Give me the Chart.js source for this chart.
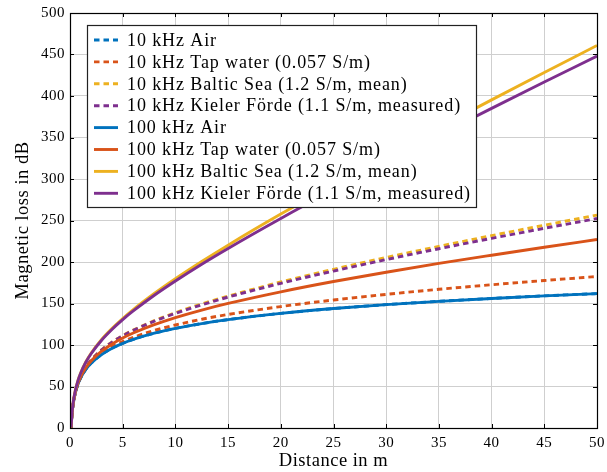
<!DOCTYPE html>
<html>
<head>
<meta charset="utf-8">
<script src="https://cdn.jsdelivr.net/npm/chart.js@4.4.1/dist/chart.umd.min.js"></script>
<style>
html, body { margin: 0; padding: 0; background: #fff; }
canvas { display: block; }
</style>
</head>
<body>
<canvas id="lossChart" width="607" height="472"></canvas>
<script>
// distance in m
const distance = [0.1, 0.2, 0.3, 0.5, 0.75, 1, 1.5, 2, 3, 4, 5, 6, 8, 10, 12.5, 15, 20, 25, 30, 35, 40, 45, 50];

// magnetic loss in dB
const air10k    = [0, 18.1, 28.6, 41.9, 52.5, 60, 70.6, 78.1, 88.6, 96.1, 101.9, 106.7, 114.2, 120, 125.8, 130.6, 138.1, 143.9, 148.6, 152.6, 156.1, 159.2, 161.9];
const tap10k    = [0, 18.1, 28.8, 42.2, 52.8, 60.4, 71.2, 78.9, 89.9, 97.8, 104.0, 109.2, 117.5, 124.1, 131.0, 136.8, 146.3, 154.2, 161.0, 167.1, 172.6, 177.7, 182.5];
const baltic10k = [0.2, 18.4, 29.2, 42.9, 53.9, 61.9, 73.4, 81.8, 94.3, 103.7, 111.4, 118.0, 129.3, 138.9, 149.5, 158.9, 175.9, 191.2, 205.4, 218.8, 231.8, 244.3, 256.5];
const kiel10k   = [0.2, 18.4, 29.2, 42.9, 53.9, 61.8, 73.3, 81.7, 94.1, 103.4, 111.0, 117.6, 128.7, 138.1, 148.4, 157.7, 174.3, 189.1, 202.9, 216.0, 228.5, 240.6, 252.4];
const air100k    = [0, 18.1, 28.6, 41.9, 52.5, 60, 70.6, 78.1, 88.6, 96.1, 101.9, 106.7, 114.2, 120, 125.8, 130.6, 138.1, 143.9, 148.6, 152.6, 156.1, 159.2, 161.9];
const tap100k    = [0.1, 18.3, 29.0, 42.6, 53.5, 61.3, 72.5, 80.7, 92.5, 101.3, 108.5, 114.5, 124.6, 133.0, 142.1, 150.1, 164.1, 176.5, 187.7, 198.3, 208.2, 217.8, 227.1];
const baltic100k = [0.6, 19.3, 30.4, 44.9, 57.0, 66.0, 79.5, 90.0, 106.6, 120.0, 131.8, 142.6, 162.0, 179.8, 200.6, 220.3, 257.7, 293.4, 328.0, 361.9, 395.3, 428.3, 460.9];
const kiel100k   = [0.6, 19.2, 30.4, 44.8, 56.8, 65.7, 79.2, 89.5, 105.8, 119.0, 130.6, 141.0, 160.0, 177.2, 197.4, 216.4, 252.5, 287.0, 320.4, 353.0, 385.1, 416.8, 448.1];

const seriesLabels = [
    '10 kHz Air',
    '10 kHz Tap water (0.057 S/m)',
    '10 kHz Baltic Sea (1.2 S/m, mean)',
    '10 kHz Kieler Förde (1.1 S/m, measured)',
    '100 kHz Air',
    '100 kHz Tap water (0.057 S/m)',
    '100 kHz Baltic Sea (1.2 S/m, mean)',
    '100 kHz Kieler Förde (1.1 S/m, measured)'
];
const seriesValues = [air10k, tap10k, baltic10k, kiel10k, air100k, tap100k, baltic100k, kiel100k];
const seriesColors = ['#0072BD', '#D95319', '#EDB120', '#7E2F8E', '#0072BD', '#D95319', '#EDB120', '#7E2F8E'];

const xTicks = [0, 5, 10, 15, 20, 25, 30, 35, 40, 45, 50];
const yTicks = [0, 50, 100, 150, 200, 250, 300, 350, 400, 450, 500];

const serif = "'Liberation Serif', 'Times New Roman', serif";
const dash = [5.5, 4];

const datasets = seriesValues.map(function (vals, i) {
    return {
        label: seriesLabels[i],
        data: vals.map(function (v, j) { return { x: distance[j], y: v }; }),
        borderColor: seriesColors[i],
        borderWidth: 2.9,
        borderDash: i < 4 ? dash : [],
        pointRadius: 0,
        fill: false,
        cubicInterpolationMode: 'monotone',
        order: seriesValues.length - i  // later series on top, like pgfplots
    };
});

// frame, inner ticks and the boxed legend
const framePlugin = {
    id: 'frame',
    beforeDraw(chart) {
        // the TeX font in the original runs wider than Times
        chart.ctx.letterSpacing = '0.5px';
    },
    afterDatasetsDraw(chart) {
        const ctx = chart.ctx;
        const a = chart.chartArea;
        const xs = chart.scales.x, ys = chart.scales.y;
        ctx.save();
        ctx.strokeStyle = '#000';
        ctx.lineWidth = 1;
        ctx.beginPath();
        xTicks.forEach(function (t) {
            const px = Math.round(xs.getPixelForValue(t)) + 0.5;
            ctx.moveTo(px, a.bottom); ctx.lineTo(px, a.bottom - 4);
            ctx.moveTo(px, a.top); ctx.lineTo(px, a.top + 4);
        });
        yTicks.forEach(function (t) {
            const py = Math.round(ys.getPixelForValue(t)) + 0.5;
            ctx.moveTo(a.left, py); ctx.lineTo(a.left + 4, py);
            ctx.moveTo(a.right, py); ctx.lineTo(a.right - 4, py);
        });
        ctx.stroke();
        ctx.lineWidth = 1.2;
        ctx.strokeRect(Math.round(a.left) + 0.5, Math.round(a.top) + 0.5, Math.round(a.right - a.left), Math.round(a.bottom - a.top));
        ctx.restore();
    },
    afterDraw(chart) {
        const ctx = chart.ctx;
        const box = { left: 87.5, top: 25.5, width: 389, height: 182 };
        ctx.save();
        ctx.fillStyle = '#fff';
        ctx.fillRect(box.left, box.top, box.width, box.height);
        ctx.strokeStyle = '#222';
        ctx.lineWidth = 1.2;
        ctx.strokeRect(box.left, box.top, box.width, box.height);
        ctx.font = '18px ' + serif;
        ctx.letterSpacing = '0.9px';
        ctx.textBaseline = 'middle';
        ctx.fillStyle = '#000';
        seriesLabels.forEach(function (label, i) {
            const y = 40 + i * 21.9;
            ctx.beginPath();
            ctx.strokeStyle = seriesColors[i];
            ctx.lineWidth = 2.9;
            ctx.setLineDash(i < 4 ? dash : []);
            ctx.moveTo(94, y); ctx.lineTo(118, y);
            ctx.stroke();
            ctx.setLineDash([]);
            ctx.fillText(label, 127, y + 1);
        });
        ctx.restore();
    }
};

new Chart(document.getElementById('lossChart'), {
    type: 'line',
    data: { datasets: datasets },
    options: {
        responsive: false,
        animation: false,
        layout: { padding: { top: 13, right: 10, left: 0, bottom: 0 } },
        plugins: {
            legend: { display: false },
            tooltip: { enabled: false }
        },
        scales: {
            x: {
                type: 'linear',
                min: 0,
                max: 50,
                afterBuildTicks: function (scale) { scale.ticks = xTicks.map(function (v) { return { value: v }; }); },
                afterFit: function (scale) {
                    scale.height = 44;
                    scale.paddingLeft = 0;
                    scale.paddingRight = 0;
                },
                grid: { color: '#cfcfcf', lineWidth: 1, drawTicks: false },
                border: { display: false },
                ticks: { color: '#000', padding: 6, maxRotation: 0, font: { family: serif, size: 15 } },
                title: { display: true, text: 'Distance in m', color: '#000', padding: { top: 0, bottom: 0 }, font: { family: serif, size: 18.5 } }
            },
            y: {
                type: 'linear',
                min: 0,
                max: 500,
                afterBuildTicks: function (scale) { scale.ticks = yTicks.map(function (v) { return { value: v }; }); },
                afterFit: function (scale) {
                    scale.width = 70;
                    scale.paddingTop = 0;
                    scale.paddingBottom = 0;
                },
                grid: { color: '#cfcfcf', lineWidth: 1, drawTicks: false },
                border: { display: false },
                ticks: { color: '#000', padding: 5, font: { family: serif, size: 15 } },
                title: { display: true, text: 'Magnetic loss in dB', color: '#000', padding: { top: 12, bottom: 0 }, font: { family: serif, size: 18.5 } }
            }
        }
    },
    plugins: [framePlugin]
});
</script>
</body>
</html>
